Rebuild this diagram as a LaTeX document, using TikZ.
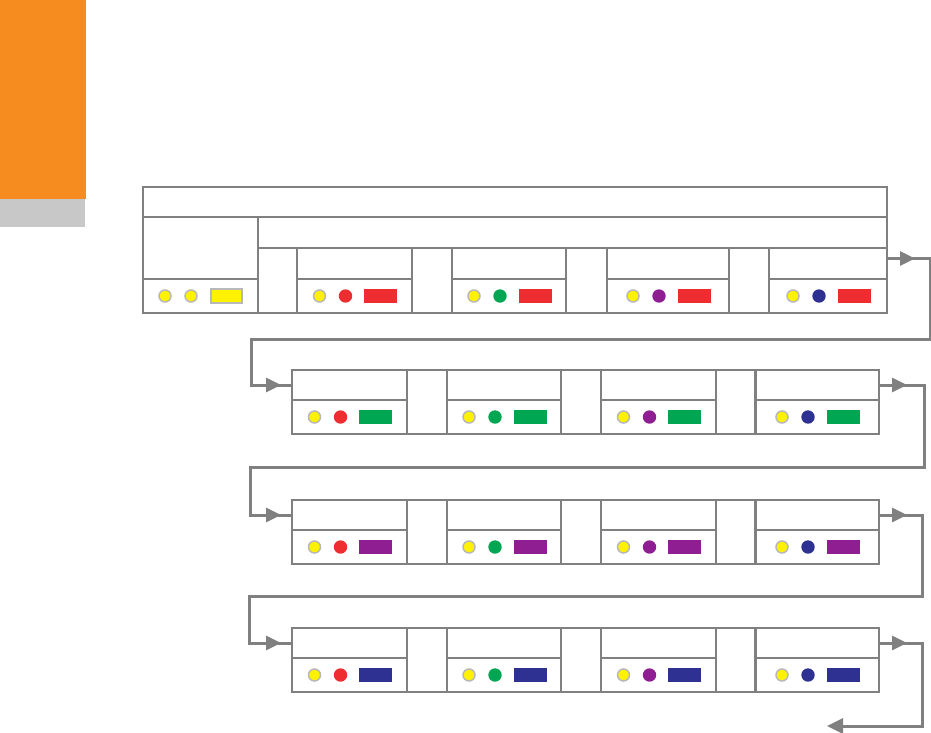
\documentclass[tikz,border=0pt]{standalone}
\usepackage{xcolor}
\usepackage{tikz}
\usetikzlibrary{arrows.meta}
\usetikzlibrary{decorations.markings}

\definecolor{orangebar}{HTML}{F68B1F}
\definecolor{greybar}{HTML}{C8C8C8}
\definecolor{frame}{HTML}{808080}
\definecolor{ringgrey}{HTML}{B8B8B8}
\definecolor{dotyellow}{HTML}{FFF200}
\definecolor{dotred}{HTML}{EE2D30}
\definecolor{dotgreen}{HTML}{00A651}
\definecolor{dotpurple}{HTML}{8E1E91}
\definecolor{dotblue}{HTML}{2E3192}

\tikzset{
	>={Triangle[length=15pt,width=14pt]},
	cell/.style={draw=frame, line width=1.3pt, rectangle, inner sep=0pt, outer sep=0pt, anchor=north west},
	outline/.style={cell, line width=2.6pt},
	ring/.style={draw=ringgrey, line width=1.5pt, fill=dotyellow},
	link/.style={draw=frame, line width=3pt, postaction={decorate},
		decoration={markings, mark=at position 28pt with {\arrow{>}}, mark=at position -11pt with {\arrow{>}}}},
	lastlink/.style={draw=frame, line width=3pt, postaction={decorate},
		decoration={markings, mark=at position 28pt with {\arrow{>}}}},
}

% yellow ring, coloured dot and bar inside one body cell
\newcommand{\cellitems}[3]{
	\filldraw[ring] ([xshift=-35pt]#1.center) circle (6pt);
	\fill[#2] ([xshift=-9pt]#1.center) circle (6.7pt);
	\fill[#3] ([xshift=9.5pt,yshift=7pt]#1.center) rectangle ++(33,14);
}

\begin{document}
\begin{tikzpicture}[x=1pt,y=-1pt]
	\useasboundingbox (0,0) rectangle (931,733);
	\fill[orangebar] (0,0) rectangle (86,199);
	\fill[greybar] (0,199) rectangle (85,227);

	% first record
	\node[cell, minimum width=744pt, minimum height=30pt] (title) at (143,187) {};
	\node[cell, minimum width=115pt, minimum height=62pt] (lefthead) at (143,217) {};
	\node[cell, minimum width=115pt, minimum height=34pt] (leftbody) at (143,279) {};
	\node[cell, minimum width=629pt, minimum height=31pt] (listhead) at (258,217) {};
	\filldraw[ring] ([xshift=-35.5pt]leftbody.center) circle (6pt);
	\filldraw[ring] ([xshift=-9.5pt]leftbody.center) circle (6pt);
	\filldraw[ring] ([xshift=10.5pt,yshift=7pt]leftbody.center) rectangle ++(31,14);
	\foreach \x/\w/\n in {258/39/1, 412/40/2, 566/41/3, 729/40/4} {
		\node[cell, minimum width=\w pt, minimum height=65pt] (g1\n) at (\x,248) {};
	}
	\foreach \x/\w/\c/\cc in {297/115/1/dotred, 452/114/2/dotgreen, 607/122/3/dotpurple, 769/118/4/dotblue} {
		\node[cell, minimum width=\w pt, minimum height=31pt] (h1\c) at (\x,248) {};
		\node[cell, minimum width=\w pt, minimum height=34pt] (b1\c) at (\x,279) {};
		\cellitems{b1\c}{\cc}{dotred}
	}
	\node[outline, minimum width=744pt, minimum height=126pt] (record1) at (143,187) {};

	% the three list records
	\foreach \r/\t/\rc in {2/370/dotgreen, 3/500/dotpurple, 4/628/dotblue} {
		\foreach \x/\n in {407/1, 561/2, 716/3} {
			\node[cell, minimum width=40pt, minimum height=64pt] (g\r\n) at (\x,\t) {};
		}
		\foreach \x/\w/\c/\cc in {292/115/1/dotred, 447/114/2/dotgreen, 601/115/3/dotpurple, 755/124/4/dotblue} {
			\node[cell, minimum width=\w pt, minimum height=30pt] (h\r\c) at (\x,\t) {};
			\node[cell, minimum width=\w pt, minimum height=34pt] (b\r\c) at (\x,\t+30) {};
			\cellitems{b\r\c}{\cc}{\rc}
		}
		\node[outline, minimum width=587pt, minimum height=64pt] (record\r) at (292,\t) {};
	}

	% links
	\coordinate (out) at (827,726);
	\draw[link] ([yshift=5pt]h14.east) -- ++(43,0) |- (251,339) |- (h21.west);
	\draw[link] (h24.east) -- ++(45,0) |- (250,467) |- (h31.west);
	\draw[link] (h34.east) -- ++(43,0) |- (249,596) |- (h41.west);
	\draw[lastlink, -{Triangle[length=16pt,width=15pt]}] (h44.east) -- ++(43,0) |- (out);
\end{tikzpicture}
\end{document}
